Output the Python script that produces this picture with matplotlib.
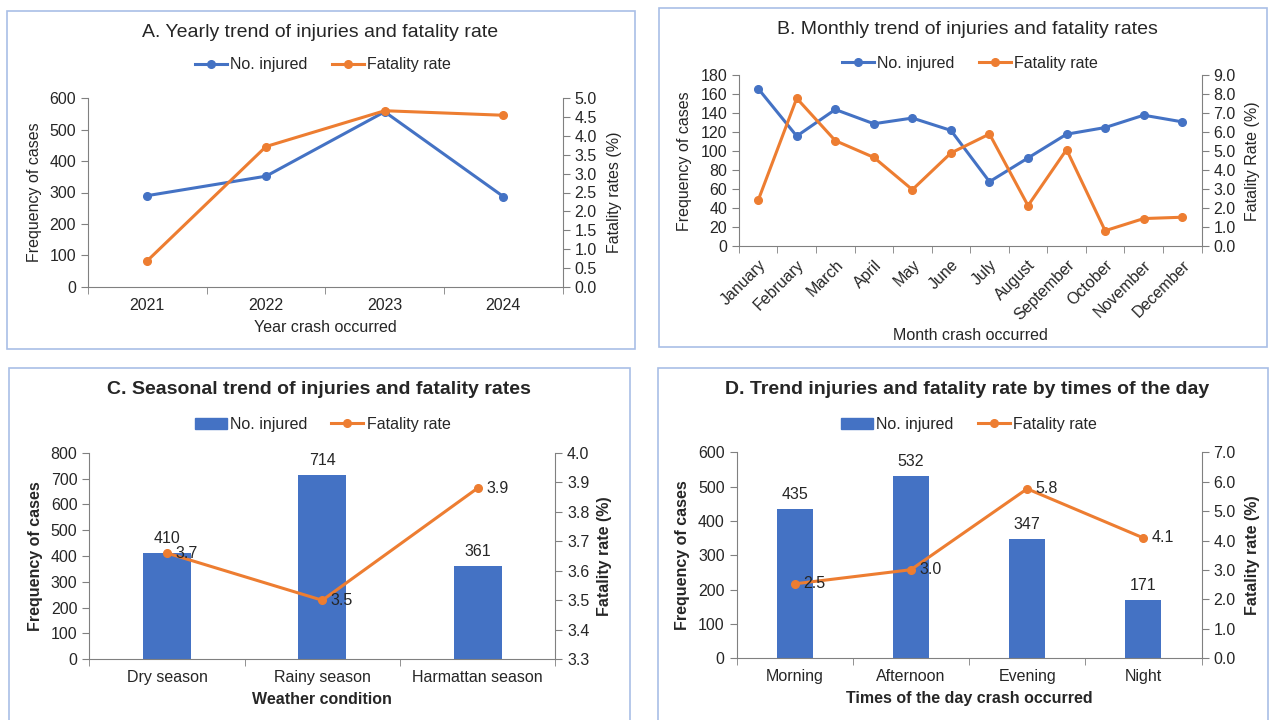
import numpy as np
import matplotlib.pyplot as plt
from matplotlib.patches import Rectangle
from matplotlib.lines import Line2D

plt.rcParams['font.family'] = ['Liberation Sans', 'DejaVu Sans']
plt.rcParams['font.size'] = 11.5

# Data
years = ['2021', '2022', '2023', '2024']
year_injured = [290, 352, 557, 287]
year_fatality = [0.69, 3.72, 4.67, 4.55]

months = ['January', 'February', 'March', 'April', 'May', 'June', 'July',
          'August', 'September', 'October', 'November', 'December']
month_injured = [166, 116, 144, 129, 135, 122, 68, 93, 118, 125, 138, 131]
month_fatality = [2.42, 7.79, 5.56, 4.68, 2.98, 4.91, 5.91, 2.14, 5.09, 0.82, 1.46, 1.53]

seasons = ['Dry season', 'Rainy season', 'Harmattan season']
season_injured = [410, 714, 361]
season_fatality = [3.66, 3.50, 3.88]

times = ['Morning', 'Afternoon', 'Evening', 'Night']
time_injured = [435, 532, 347, 171]
time_fatality = [2.53, 3.01, 5.76, 4.09]

BLUE = '#4472C4'
ORANGE = '#ED7D31'
AXC = '#808080'
TXT = '#262626'
W, H = 1271, 720

fig = plt.figure(figsize=(W / 100, H / 100), dpi=100)


def fx(px):
    return px / W


def fy(py):
    return 1 - py / H


def panel(box, axbox, title, bold, n, labels, ylim, yticks, ylim2, yticks2, fmt2,
          ylab, ylab2, xlab, ylx, ylx2, xly, title_xy, leg_xy, bars, injured, fatal, rot=0):
    # panel border
    x0, y0, x1, y1 = box
    fig.add_artist(Rectangle((fx(x0), fy(y1)), fx(x1 - x0), (y1 - y0) / H,
                             transform=fig.transFigure, fill=False,
                             edgecolor='#A9BFE6', linewidth=1.2))
    l, t, r, b = axbox
    ax = fig.add_axes([fx(l), fy(b), fx(r - l), (b - t) / H])
    ax2 = ax.twinx()
    x = np.arange(n)
    wt = 'bold' if bold else 'normal'

    if bars:
        ax.bar(x, injured, width=0.31, color=BLUE, zorder=2)
        ax.bar_label(ax.containers[0], padding=5, fontsize=11.5, color=TXT)
        ax2.plot(x, fatal, color=ORANGE, lw=2.2, marker='o', ms=5.5)
        for i, v in enumerate(fatal):
            ax2.annotate(f'{v:.1f}', (i, v), xytext=(6, 0), textcoords='offset points',
                         va='center', ha='left', fontsize=11.5, color=TXT)
        h1 = Rectangle((0, 0), 1, 1, color=BLUE)
    else:
        ax.plot(x, injured, color=BLUE, lw=2.2, marker='o', ms=5.5)
        ax2.plot(x, fatal, color=ORANGE, lw=2.2, marker='o', ms=5.5)
        h1 = Line2D([], [], color=BLUE, lw=2.2, marker='o', ms=5.5)
    h2 = Line2D([], [], color=ORANGE, lw=2.2, marker='o', ms=5.5)

    ax.set_xlim(-0.5, n - 0.5)
    ax.set_ylim(*ylim)
    ax.set_yticks(yticks)
    ax2.set_ylim(*ylim2)
    ax2.set_yticks(yticks2)
    ax2.set_yticklabels([fmt2.format(v) for v in yticks2])
    ax.set_xticks(x)
    if rot:
        ax.set_xticklabels(labels, rotation=rot, ha='right', rotation_mode='anchor')
    else:
        ax.set_xticklabels(labels)
    ax.set_xticks(np.arange(-0.5, n), minor=True)
    ax.tick_params(axis='x', which='major', length=0, pad=8, colors=TXT, labelsize=11.5)
    ax.tick_params(axis='x', which='minor', length=5, color=AXC)
    ax.tick_params(axis='y', length=5, color=AXC, labelcolor=TXT, labelsize=11.5)
    ax2.tick_params(axis='y', length=5, color=AXC, labelcolor=TXT, labelsize=11.5)

    for s in ['top', 'right']:
        ax.spines[s].set_visible(False)
    for s in ['top', 'left', 'bottom']:
        ax2.spines[s].set_visible(False)
    ax.spines['left'].set_color(AXC)
    ax.spines['bottom'].set_color(AXC)
    ax2.spines['right'].set_color(AXC)

    ax.set_ylabel(ylab, fontweight=wt, color=TXT, va='center')
    ax.yaxis.set_label_coords(fx(ylx), fy((t + b) / 2), transform=fig.transFigure)
    ax2.set_ylabel(ylab2, fontweight=wt, color=TXT, va='center')
    ax2.yaxis.set_label_coords(fx(ylx2), fy((t + b) / 2), transform=fig.transFigure)
    ax.set_xlabel(xlab, fontweight=wt, color=TXT, va='center')
    ax.xaxis.set_label_coords(fx((l + r) / 2), fy(xly), transform=fig.transFigure)

    fig.text(fx(title_xy[0]), fy(title_xy[1]), title, ha='center', va='center',
             fontsize=14, fontweight=wt, color=TXT)
    fig.legend([h1, h2], ['No. injured', 'Fatality rate'], loc='center',
               bbox_to_anchor=(fx(leg_xy[0]), fy(leg_xy[1])), ncol=2, frameon=False,
               fontsize=11.5, handlelength=2.0, handletextpad=0.2, columnspacing=1.5,
               labelcolor=TXT)
    return ax, ax2


panel((7, 11, 635, 349), (88, 98.3, 562.7, 286.7),
      'A. Yearly trend of injuries and fatality rate', False, 4, years,
      (0, 600), range(0, 601, 100), (0, 5), np.arange(0, 5.01, 0.5), '{:.1f}',
      'Frequency of cases', 'Fatality rates (%)', 'Year crash occurred',
      35, 615, 328, (320, 32.5), (323, 65), False, year_injured, year_fatality)

panel((659, 8, 1267, 347), (738.9, 75.3, 1201.5, 246.3),
      'B. Monthly trend of injuries and fatality rates', False, 12, months,
      (0, 180), range(0, 181, 20), (0, 9), np.arange(0, 9.01, 1.0), '{:.1f}',
      'Frequency of cases', 'Fatality Rate (%)', 'Month crash occurred',
      684.5, 1252.6, 335, (967.7, 29.5), (970, 63.3), False, month_injured, month_fatality,
      rot=45)

panel((9, 368, 630, 730), (89.3, 452.7, 555.3, 659.3),
      'C. Seasonal trend of injuries and fatality rates', True, 3, seasons,
      (0, 800), range(0, 801, 100), (3.3, 4.0), np.arange(3.3, 4.01, 0.1), '{:.1f}',
      'Frequency of cases', 'Fatality rate (%)', 'Weather condition',
      36, 605, 700, (319, 390), (322.7, 424.3), True, season_injured, season_fatality)

panel((658, 368, 1268, 730), (736.5, 452.3, 1201.5, 658.3),
      'D. Trend injuries and fatality rate by times of the day', True, 4, times,
      (0, 600), range(0, 601, 100), (0, 7), np.arange(0, 7.01, 1.0), '{:.1f}',
      'Frequency of cases', 'Fatality rate (%)', 'Times of the day crash occurred',
      683, 1252, 699, (967, 390), (969, 424.3), True, time_injured, time_fatality)

fig.savefig('out.png', dpi=100)
